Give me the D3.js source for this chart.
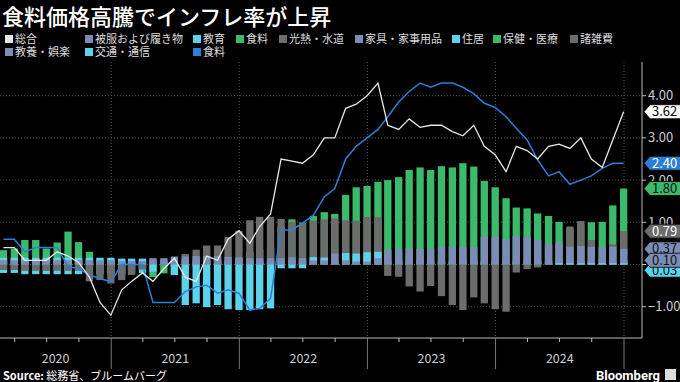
<!DOCTYPE html>
<html>
<head>
<meta charset="utf-8">
<script src="https://cdn.jsdelivr.net/npm/d3@7"></script>
<style>
  body { margin: 0; background: #000; }
  svg { display: block; font-family: "Noto Sans CJK JP", "Noto Sans", sans-serif; }
</style>
</head>
<body>
<svg id="chart" width="680" height="382"></svg>
<script>
// months (Feb 2020 - Dec 2024), contributions in percentage points
var months = ["2020-02","2020-03","2020-04","2020-05","2020-06","2020-07","2020-08","2020-09","2020-10","2020-11","2020-12",
  "2021-01","2021-02","2021-03","2021-04","2021-05","2021-06","2021-07","2021-08","2021-09","2021-10","2021-11","2021-12",
  "2022-01","2022-02","2022-03","2022-04","2022-05","2022-06","2022-07","2022-08","2022-09","2022-10","2022-11","2022-12",
  "2023-01","2023-02","2023-03","2023-04","2023-05","2023-06","2023-07","2023-08","2023-09","2023-10","2023-11","2023-12",
  "2024-01","2024-02","2024-03","2024-04","2024-05","2024-06","2024-07","2024-08","2024-09","2024-10","2024-11","2024-12"]

var headline = [0.4,0.4,0.1,0.1,0.1,0.3,0.2,0.05,-0.3,-0.9,-1.2,
  -0.6,-0.4,-0.2,-0.4,-0.1,0.15,-0.3,-0.4,0.2,0.1,0.6,0.8,
  0.5,0.9,1.2,2.5,2.45,2.4,2.6,3.0,3.0,3.7,3.8,4.0,
  4.3,3.3,3.2,3.45,3.25,3.3,3.3,3.15,3.05,3.3,2.8,2.6,
  2.2,2.8,2.7,2.5,2.8,2.85,2.75,3.0,2.5,2.3,2.95,3.62]

var core = [0.6,0.6,0.3,0.4,0.4,0.4,-0.05,-0.1,-0.25,-0.33,-0.41,
  0.0,0.0,0.0,-0.9,-0.9,-0.9,-0.64,-0.53,-0.49,-0.68,-0.6,-0.68,
  -1.08,-1.04,-0.8,0.82,0.82,0.98,1.17,1.6,1.8,2.5,2.8,3.0,
  3.2,3.5,3.85,4.1,4.3,4.2,4.3,4.3,4.2,4.05,3.82,3.72,
  3.5,3.23,2.95,2.48,2.1,2.2,1.9,2.0,2.1,2.28,2.4,2.4]

var clothing = [0.02,0.02,0.02,0.02,0.02,0.02,0.02,0.02,0.02,0.02,0.02,
  0.02,0.02,0.02,0.02,0.02,0.02,0.02,0.02,0.02,0.02,0.02,0.02,
  0.02,0.02,0.02,0.02,0.02,0.02,0.02,0.02,0.02,0.02,0.02,0.02,
  0.02,0.02,0.02,0.02,0.02,0.02,0.02,0.02,0.02,0.02,0.02,0.02,
  0.02,0.02,0.02,0.02,0.02,0.02,0.02,0.02,0.02,0.02,0.02,0.02]
var education = [-0.2,-0.2,-0.23,-0.23,-0.23,-0.23,-0.23,-0.23,-0.23,-0.23,-0.23,
  -0.22,-0.2,-0.2,0,0,0,0,0,0,0,0,0,
  0,0,0,0,0,0,0,0,0,0,0,0,
  0,0,0,0,0,0,0,0,0,0,0,0,
  0,0,0,0,0,0,0,0,0,0,0,0]
var food = [0.34,0.38,0.58,0.58,0.38,0.52,0.78,0.53,0.30,0.05,-0.05,
  -0.05,-0.1,-0.1,-0.3,-0.21,-0.2,-0.1,-0.05,0.05,0.1,0.05,0.15,
  0.3,0.35,0.4,0.9,1.07,0.95,1.15,1.24,1.2,1.65,1.83,1.86,
  1.96,2.0,2.07,2.24,2.3,2.24,2.33,2.3,2.4,2.32,1.98,1.83,
  1.57,1.35,1.33,1.21,1.15,1.01,0.85,0.95,1.0,1.01,1.4,1.8]
var energy = [-0.13,-0.13,-0.15,-0.15,-0.15,-0.15,-0.15,-0.15,-0.4,-0.37,-0.45,
  -0.37,-0.25,-0.12,0.0,0.05,0.1,0.25,0.35,0.45,0.45,0.65,0.8,
  1.05,1.13,1.13,1.08,1.01,1.0,1.04,1.07,1.09,1.05,1.04,1.13,
  1.12,-0.27,-0.29,-0.52,-0.64,-0.51,-0.75,-0.96,-1.08,-0.78,-0.92,-1.06,
  -1.12,-0.19,-0.11,-0.07,0.45,0.48,0.9,1.03,0.58,0.3,0.48,0.79]
var furniture = [0.12,0.12,0.12,0.12,0.12,0.12,0.12,0.12,0.12,0.12,0.12,
  0.1,0.1,0.1,0.15,0.15,0.19,0.19,0.2,0.2,0.2,0.18,0.17,
  0.15,0.15,0.15,0.15,0.17,0.15,0.18,0.18,0.26,0.2,0.2,0.2,
  0.25,0.34,0.36,0.38,0.37,0.37,0.42,0.42,0.41,0.41,0.66,0.66,
  0.6,0.67,0.66,0.58,0.49,0.52,0.42,0.44,0.42,0.41,0.42,0.37]
var housing = [0.16,0.16,0.16,0.16,0.16,0.16,0.16,0.16,0.16,0.16,0.16,
  0.14,0.14,0.14,0,0,0,0,0,0,0,0,0,
  0,0,0,0,0,0,0.17,0.15,0,0.27,0.26,0.29,
  0.3,0,0,0,0,0,0,0,0,0,0,0,
  0,0,0,0,0,0,0,0,0,0,0,0]
var health = [0.04,0.04,0.04,0.04,0.04,0.04,0.04,0.04,0.04,0.04,0.04,
  0.04,0.04,0.04,0.04,0.04,0.04,0.04,0.04,0.04,0.04,0.04,0.04,
  0.04,0.04,0.04,0.04,0.04,0.04,0.04,0.04,0.04,0.04,0.04,0.04,
  0.04,0.04,0.04,0.04,0.04,0.04,0.04,0.04,0.04,0.04,0.04,0.04,
  0.04,0.04,0.04,0.04,0.04,0.04,0.04,0.04,0.04,0.04,0.04,0.04]
var misc = [0.05,0.05,0.05,0.05,0.05,0.05,0.05,0.05,0.05,0.05,0.05,
  0.05,0.05,0.05,0.05,0.05,0.05,0.05,0.05,0.05,0.05,0.05,0.05,
  0.05,0.05,0.05,0.05,0.05,0.05,0.05,0.05,0.05,0.05,0.05,0.05,
  0.05,0.05,0.05,0.05,0.05,0.05,0.05,0.05,0.05,0.05,0.05,0.05,
  0.05,0.05,0.05,0.05,0.05,0.05,0.05,0.05,0.05,0.05,0.05,0.05]
var culture = [0.1,0.1,0.1,0.1,0.1,0.1,0.1,0.1,0.1,0.1,0.1,
  0.08,0.08,0.08,0.1,0.1,0.1,0.1,0.1,0.1,0.1,0.1,0.1,
  0.1,0.1,0.1,0.1,0.1,0.1,0.1,0.1,0.1,0.1,0.07,0.07,
  0.15,0.1,0.1,0.1,0.1,0.1,0.1,0.1,0.1,0.1,0.1,0.1,
  0.1,0.1,0.1,0.1,0.1,0.1,0.1,0.1,0.1,0.1,0.1,0.10]
var transport = [0,0,0,0,0,0,0,0,0,0,0,
  0,0,0,-0.17,0,-0.25,-0.96,-0.92,-1.01,-0.96,-1.06,-1.08,
  -1.08,-1.06,-1.04,-0.09,-0.09,-0.09,0,0,0,0,0,0,
  0,0,0,0,0,0,0,0,0,0,0,0,
  0,0,0,0,0,0.03,0.03,0.03,0.03,0.03,0.03,0.03]

var yTicks = [-1, 0, 1, 2, 3, 4]
var years = ["2020","2021","2022","2023","2024"]

// bar series in drawing order (first = bottom), bars overlap from zero
var barSeries = [
  {name:"被服および履き物", values:clothing, kind:"bg"},
  {name:"教育", values:education, kind:"cy"},
  {name:"食料", values:food, kind:"gr"},
  {name:"光熱・水道", values:energy, kind:"gy"},
  {name:"家具・家事用品", values:furniture, kind:"bg"},
  {name:"住居", values:housing, kind:"cy"},
  {name:"保健・医療", values:health, kind:"gr"},
  {name:"諸雑費", values:misc, kind:"gy"},
  {name:"教養・娯楽", values:culture, kind:"bg"},
  {name:"交通・通信", values:transport, kind:"cy"}
]
var colors = {bg:"#7b8db6", cy:"#5cd3ea", gr:"#3cba6c", gy:"#6c6c6c", white:"#e8e8e8", blue:"#2c7fd6"}

var svg = d3.select("#chart")
var W = 680, H = 382
var plotLeft = 0, plotRight = 642, plotTop = 62, plotBottom = 338

svg.append("rect").attr("width", W).attr("height", H).attr("fill", "#000")

var parse = d3.timeParse("%Y-%m")
var monthEnd = function(s){ return d3.timeDay.offset(d3.timeMonth.offset(parse(s), 1), -1) }

var x = d3.scaleTime()
  .domain([new Date(2020,0,1), new Date(2025,0,1)])
  .range([-17.25, 624])
var y = d3.scaleLinear().domain([-1, 4]).range([306.7, 95.7])

// title
svg.append("text").attr("x", 2).attr("y", 25)
  .attr("fill", "#fff").attr("font-size", 22).attr("font-weight", 500)
  .text("食料価格高騰でインフレ率が上昇")

// legend
var legendItems = [
  {name:"総合", color:colors.white, col:0, row:0},
  {name:"被服および履き物", color:colors.bg, col:80, row:0},
  {name:"教育", color:colors.cy, col:188, row:0},
  {name:"食料", color:colors.gr, col:231, row:0},
  {name:"光熱・水道", color:colors.gy, col:274, row:0},
  {name:"家具・家事用品", color:colors.bg, col:350, row:0},
  {name:"住居", color:colors.cy, col:447, row:0},
  {name:"保健・医療", color:colors.gr, col:488, row:0},
  {name:"諸雑費", color:colors.gy, col:565, row:0},
  {name:"教養・娯楽", color:colors.bg, col:0, row:1},
  {name:"交通・通信", color:colors.cy, col:80, row:1},
  {name:"食料", color:colors.blue, col:188, row:1}
]
var legend = svg.append("g")
var li = legend.selectAll("g").data(legendItems).enter().append("g")
  .attr("transform", function(d){ return "translate(" + (d.col + 5) + "," + (39 + d.row * 13) + ")" })
li.append("rect").attr("x", 0).attr("y", -4).attr("width", 8).attr("height", 8).attr("fill", function(d){ return d.color })
li.append("text").attr("x", 10).attr("y", 4).attr("fill", "#ddd").attr("font-size", 11).text(function(d){ return d.name })

// grid
var grid = svg.append("g")
grid.selectAll("line.h").data(yTicks).enter().append("line")
  .attr("x1", plotLeft).attr("x2", plotRight)
  .attr("y1", function(d){ return y(d) }).attr("y2", function(d){ return y(d) })
  .attr("stroke", "#555").attr("stroke-width", 1).attr("stroke-dasharray", "1,2")
var yearStarts = years.map(function(yr){ return new Date(+yr + 1, 0, 1) })
grid.selectAll("line.v").data(yearStarts).enter().append("line")
  .attr("x1", function(d){ return x(d) }).attr("x2", function(d){ return x(d) })
  .attr("y1", plotTop).attr("y2", plotBottom)
  .attr("stroke", "#555").attr("stroke-width", 1).attr("stroke-dasharray", "1,2")

// clip
svg.append("clipPath").attr("id", "clip").append("rect")
  .attr("x", plotLeft).attr("y", plotTop).attr("width", plotRight - plotLeft).attr("height", plotBottom - plotTop)
var plot = svg.append("g").attr("clip-path", "url(#clip)")

var barW = 7.3
barSeries.forEach(function(s){
  plot.append("g").selectAll("rect").data(s.values).enter().append("rect")
    .attr("x", function(d, i){ return x(monthEnd(months[i])) - barW / 2 })
    .attr("width", barW)
    .attr("y", function(d){ return Math.min(y(d), y(0)) })
    .attr("height", function(d){ return Math.abs(y(d) - y(0)) })
    .attr("fill", colors[s.kind])
})

var line = d3.line()
  .x(function(d, i){ return x(monthEnd(months[i])) })
  .y(function(d){ return y(d) })
plot.append("path").datum(core).attr("d", line).attr("fill", "none")
  .attr("stroke", colors.blue).attr("stroke-width", 1.5)
plot.append("path").datum(headline).attr("d", line).attr("fill", "none")
  .attr("stroke", colors.white).attr("stroke-width", 1.3)

// x axis
svg.append("line").attr("x1", 0).attr("x2", plotRight).attr("y1", plotBottom).attr("y2", plotBottom)
  .attr("stroke", "#bbb").attr("stroke-width", 1)
var quarters = d3.timeMonth.range(new Date(2020,0,1), new Date(2025,2,1), 3)
svg.append("g").selectAll("line").data(quarters.filter(function(d){ return d.getMonth() !== 0 && x(d) > 0 })).enter().append("line")
  .attr("x1", function(d){ return x(d) }).attr("x2", function(d){ return x(d) })
  .attr("y1", plotBottom).attr("y2", plotBottom + 4)
  .attr("stroke", "#bbb")
svg.append("g").selectAll("line").data(yearStarts).enter().append("line")
  .attr("x1", function(d){ return x(d) }).attr("x2", function(d){ return x(d) })
  .attr("y1", plotBottom).attr("y2", 369)
  .attr("stroke", "#777")
svg.append("g").selectAll("text").data(years).enter().append("text")
  .attr("x", function(d){
    var a = Math.max(0, x(new Date(+d, 0, 1))), b = x(new Date(+d + 1, 0, 1))
    return (a + b) / 2
  })
  .attr("y", 363).attr("text-anchor", "middle").attr("fill", "#ccc").attr("font-size", 12.5)
  .text(function(d){ return d })

// y axis on right
svg.append("line").attr("x1", plotRight).attr("x2", plotRight).attr("y1", plotTop).attr("y2", plotBottom)
  .attr("stroke", "#bbb")
var yAxis = svg.append("g")
yAxis.selectAll("line").data(yTicks).enter().append("line")
  .attr("x1", plotRight).attr("x2", plotRight + 4)
  .attr("y1", function(d){ return y(d) }).attr("y2", function(d){ return y(d) }).attr("stroke", "#bbb")
yAxis.selectAll("text").data(yTicks).enter().append("text")
  .attr("x", plotRight + 6).attr("y", function(d){ return y(d) + 4.5 })
  .attr("fill", "#ccc").attr("font-size", 13)
  .text(function(d){ return d3.format(".2f")(d) })

// last value tags
var last = function(arr){ return arr[arr.length - 1] }
var tags = [
  {v:last(transport), fill:colors.cy, txt:"#111", nudge:7},
  {v:last(furniture), fill:colors.bg, txt:"#111", nudge:0},
  {v:last(culture), fill:colors.bg, txt:"#111", nudge:0},
  {v:last(energy), fill:colors.gy, txt:"#fff", nudge:0},
  {v:last(food), fill:colors.gr, txt:"#111", nudge:0},
  {v:last(core), fill:colors.blue, txt:"#fff", nudge:0},
  {v:last(headline), fill:"#fff", txt:"#000", nudge:0}
]
var tg = svg.append("g").selectAll("g").data(tags).enter().append("g")
  .attr("transform", function(d){ return "translate(0," + (y(d.v) + d.nudge) + ")" })
tg.append("path")
  .attr("d", "M644,0 L650,-7 H684 V7 H650 Z")
  .attr("fill", function(d){ return d.fill })
  .attr("stroke", "#000").attr("stroke-width", 0.8)
tg.append("text").attr("x", 652).attr("y", 4.5).attr("font-size", 13)
  .attr("fill", function(d){ return d.txt })
  .text(function(d){ return d3.format(".2f")(d.v) })

// footer
var src = svg.append("text").attr("x", 3).attr("y", 380).attr("font-size", 11).attr("fill", "#fff")
src.append("tspan").attr("font-weight", "bold").text("Source: ")
src.append("tspan").text("総務省、ブルームバーグ")
svg.append("text").attr("x", 660).attr("y", 380).attr("text-anchor", "end")
  .attr("font-size", 13).attr("font-weight", "bold").attr("fill", "#fff")
  .attr("font-family", "Roboto, sans-serif").text("Bloomberg")
svg.append("rect").attr("x", 665).attr("y", 369).attr("width", 11).attr("height", 11).attr("fill", "#ddd")
</script>
</body>
</html>
